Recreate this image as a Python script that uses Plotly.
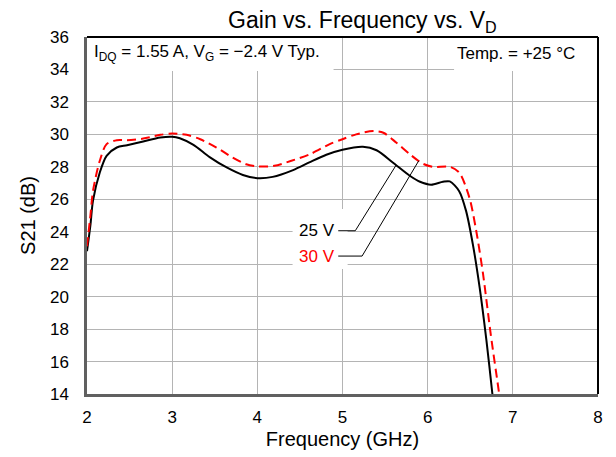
import numpy as np
import plotly.graph_objects as go

# ---- data ----
freq_25v = [2.00, 2.04, 2.07, 2.15, 2.23, 2.35, 2.47, 2.66, 2.86, 3.00, 3.09, 3.25,
            3.44, 3.64, 3.83, 4.00, 4.18, 4.42, 4.61, 4.81, 5.00, 5.24, 5.40, 5.59,
            5.79, 5.91, 6.04, 6.18, 6.26, 6.37, 6.45, 6.53, 6.61, 6.69, 6.76, 6.80]
gain_25v = [22.8, 24.4, 25.9, 27.65, 28.68, 29.19, 29.33, 29.56, 29.8, 29.85, 29.76, 29.35,
            28.6, 27.96, 27.5, 27.3, 27.38, 27.8, 28.27, 28.74, 29.05, 29.23, 29.02, 28.27,
            27.45, 27.08, 26.9, 27.08, 27.1, 26.5, 25.3, 23.24, 20.57, 17.3, 14.0, 12.0]

freq_30v = [2.00, 2.04, 2.07, 2.15, 2.23, 2.35, 2.47, 2.66, 2.86, 3.00, 3.17, 3.33,
            3.52, 3.71, 3.87, 4.02, 4.20, 4.40, 4.62, 4.85, 5.00, 5.16, 5.36, 5.48,
            5.63, 5.79, 5.94, 6.06, 6.26, 6.37, 6.49, 6.57, 6.65, 6.74, 6.84, 6.88]
gain_30v = [23.1, 25.0, 26.5, 28.37, 29.4, 29.64, 29.64, 29.74, 29.97, 30.05, 29.97, 29.7,
            29.19, 28.57, 28.16, 28.02, 28.06, 28.37, 28.78, 29.4, 29.7, 30.0, 30.2, 30.1,
            29.5, 28.78, 28.2, 28.0, 28.0, 27.65, 26.1, 24.06, 21.4, 17.7, 14.0, 12.5]

x_ticks = [2, 3, 4, 5, 6, 7, 8]
y_ticks = [14, 16, 18, 20, 22, 24, 26, 28, 30, 32, 34, 36]

series_names = ["25 V", "30 V"]
series_colors = ["#000000", "#ff0000"]

title_text = "Gain vs. Frequency vs. V<sub>D</sub>"
x_title = "Frequency (GHz)"
y_title = "S21 (dB)"
cond_text = "I<sub>DQ</sub> = 1.55 A, V<sub>G</sub> = \u22122.4 V Typ."
temp_text = "Temp. = +25 \u00b0C"

FONT = "Liberation Sans, Arial, sans-serif"

fig = go.Figure()
fig.add_trace(go.Scatter(x=freq_25v, y=gain_25v, mode="lines", name=series_names[0],
                         line=dict(color=series_colors[0], width=2, shape="spline", smoothing=0.8)))
fig.add_trace(go.Scatter(x=freq_30v, y=gain_30v, mode="lines", name=series_names[1],
                         line=dict(color=series_colors[1], width=2, dash="9px,5px",
                                   shape="spline", smoothing=0.8)))

# white boxes hiding gridlines behind text
for x0, x1, y0, y1 in [(2.0, 4.895, 33.9, 36.0), (6.31, 8.0, 33.9, 36.0), (4.414, 5.06, 21.7, 25.4)]:
    fig.add_shape(type="rect", xref="x", yref="y", x0=x0, x1=x1, y0=y0, y1=y1,
                  fillcolor="white", line=dict(width=0), layer="between")

# leader lines
label_x = 4.93
label_y = [24.06, 22.5]
elbow_x = [5.15, 5.23]
target_x = [5.63, 5.895]
curves = [(freq_25v, gain_25v), (freq_30v, gain_30v)]
for i in range(2):
    ty = float(np.interp(target_x[i], curves[i][0], curves[i][1]))
    fig.add_shape(type="path", xref="x", yref="y",
                  path=f"M {label_x + 0.02},{label_y[i]} L {elbow_x[i]},{label_y[i]} L {target_x[i]},{ty}",
                  line=dict(color="black", width=1))
    fig.add_annotation(x=label_x, y=label_y[i], xref="x", yref="y", text=series_names[i],
                       showarrow=False, xanchor="right", yanchor="middle",
                       font=dict(family=FONT, size=17, color=series_colors[i]))

fig.add_annotation(x=2.06, y=35.0, xref="x", yref="y", text=cond_text, showarrow=False,
                   xanchor="left", yanchor="middle", font=dict(family=FONT, size=17, color="black"))
fig.add_annotation(x=7.754, y=35.0, xref="x", yref="y", text=temp_text, showarrow=False,
                   xanchor="right", yanchor="middle", font=dict(family=FONT, size=17, color="black"))

# top & right black frame
fig.add_shape(type="line", xref="paper", yref="paper", x0=0, x1=1, y0=1, y1=1,
              line=dict(color="black", width=2), layer="above")
fig.add_shape(type="line", xref="paper", yref="paper", x0=1, x1=1, y0=0, y1=1,
              line=dict(color="black", width=2), layer="above")

# the page body has an 8px margin, so the figure is sized and offset accordingly
fig.update_layout(
    width=608, height=449,
    margin=dict(l=79, r=18, t=29, b=63, autoexpand=False),
    paper_bgcolor="white", plot_bgcolor="white",
    showlegend=False,
    font=dict(family=FONT, color="black"),
    title=dict(text=title_text, x=0.362, xanchor="left", y=0.973, yanchor="middle",
               font=dict(family=FONT, size=23, color="black")),
    xaxis=dict(range=[2, 8], tickvals=x_ticks, showgrid=True, gridcolor="#b4b4b4", gridwidth=1,
               showline=True, linecolor="#606060", linewidth=2.5, zeroline=False, ticks="",
               tickfont=dict(size=17), ticklabelstandoff=6, automargin=False,
               title=dict(text=x_title, font=dict(size=20), standoff=6)),
    yaxis=dict(range=[14, 36], tickvals=y_ticks, showgrid=True, gridcolor="#b4b4b4", gridwidth=1,
               showline=True, linecolor="#606060", linewidth=2.5, zeroline=False, ticks="",
               tickfont=dict(size=17), ticklabelstandoff=12, automargin=False,
               title=dict(text=y_title, font=dict(size=20), standoff=9)),
)

fig.write_html("out.html")
